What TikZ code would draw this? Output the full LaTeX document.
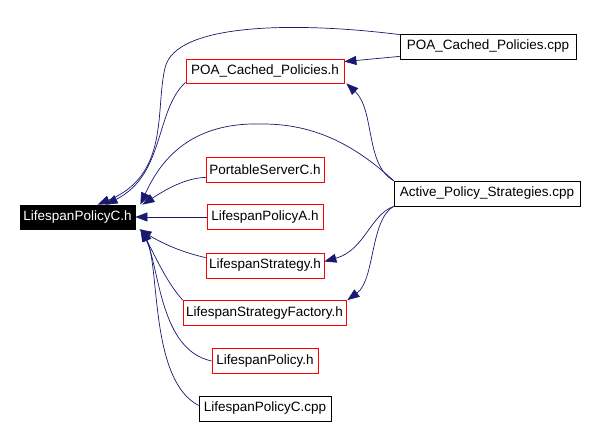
\documentclass[tikz,border=0pt]{standalone}
\usepackage{fontspec}
\setmainfont{Liberation Sans}
\usetikzlibrary{arrows.meta,calc}
\definecolor{edgeblue}{RGB}{25,25,112}
\begin{document}
\begin{tikzpicture}[x=1pt,y=-1pt,
  box/.style={draw, rectangle, inner sep=0pt, line width=0.8pt, minimum height=25pt, font=\fontsize{13.5}{16}\selectfont, anchor=center},
  redbox/.style={box, draw=red},
  blackbox/.style={box, draw=black},
  focusbox/.style={box, draw=black, fill=black, text=white},
  edge/.style={draw=edgeblue, line width=0.7pt, -{Triangle[length=12pt,width=9pt]}}]
\fill[white] (0,0) rectangle (598,427);
\useasboundingbox (0,0) rectangle (598,427);

\node[focusbox, minimum width=115pt, minimum height=24pt] (LPCh) at (77.5,217) {LifespanPolicyC.h};
\node[blackbox, minimum width=176pt] (POAcpp) at (488,46.5) {POA\_Cached\_Policies.cpp};
\node[redbox, minimum width=158pt, minimum height=24pt] (POAh) at (265,71) {POA\_Cached\_Policies.h};
\node[redbox, minimum width=118pt] (PSC) at (265,169.5) {PortableServerC.h};
\node[redbox, minimum width=116pt] (LPA) at (265,217) {LifespanPolicyA.h};
\node[redbox, minimum width=118pt] (LS) at (265,265.5) {LifespanStrategy.h};
\node[redbox, minimum width=163pt] (LSF) at (264.5,313) {LifespanStrategyFactory.h};
\node[redbox, minimum width=106pt] (LP) at (265,361) {LifespanPolicy.h};
\node[blackbox, minimum width=132pt] (LPCcpp) at (265,408.5) {LifespanPolicyC.cpp};
\node[blackbox, minimum width=186pt] (APS) at (487,193.5) {Active\_Policy\_Strategies.cpp};

\draw[edge] ($(POAcpp.south west)+(0,-3)$) -- ($(POAh.north east)+(0,3)$);
\draw[edge] ($(POAcpp.north west)+(0,1)$) .. controls (300,22) and (175,22) .. (165,68)
   .. controls (155,110) and (170,175) .. ($(LPCh.north west)+(78,0)$);
\draw[edge] ($(POAh.south west)+(0,-1)$) .. controls (155,110) and (165,175) .. ($(LPCh.north west)+(86,0)$);
\draw[edge] (APS.north west) .. controls (360,150) and (320,124) .. (263,124)
   .. controls (200,122) and (165,150) .. ($(LPCh.north east)+(5,0)$);
\draw[edge] ($(PSC.south west)+(0,-5)$) .. controls (185,178) and (165,190) .. ($(LPCh.north east)+(7,0)$);
\draw[edge] (LPA.west) -- (LPCh.east);
\draw[edge] ($(LS.north west)+(0,5)$) .. controls (185,253) and (165,245) .. ($(LPCh.south east)+(4,0)$);
\draw[edge] (LSF.north west) .. controls (165,280) and (155,255) .. ($(LPCh.south east)+(5,0)$);
\draw[edge] (LP.west) .. controls (160,350) and (160,270) .. ($(LPCh.south east)+(6,0)$);
\draw[edge] ($(LPCcpp.west)+(0,-3)$) .. controls (150,380) and (160,270) .. ($(LPCh.south east)+(7,0)$);
\draw[edge] (APS.north west) .. controls (365,165) and (375,110) .. ($(POAh.south east)+(2,0)$);
\draw[edge] (APS.south west) .. controls (370,215) and (365,250) .. ($(LS.east)+(0,-4)$);
\draw[edge] (APS.south west) .. controls (370,220) and (375,280) .. ($(LSF.north east)+(1,0)$);
\end{tikzpicture}
\end{document}
